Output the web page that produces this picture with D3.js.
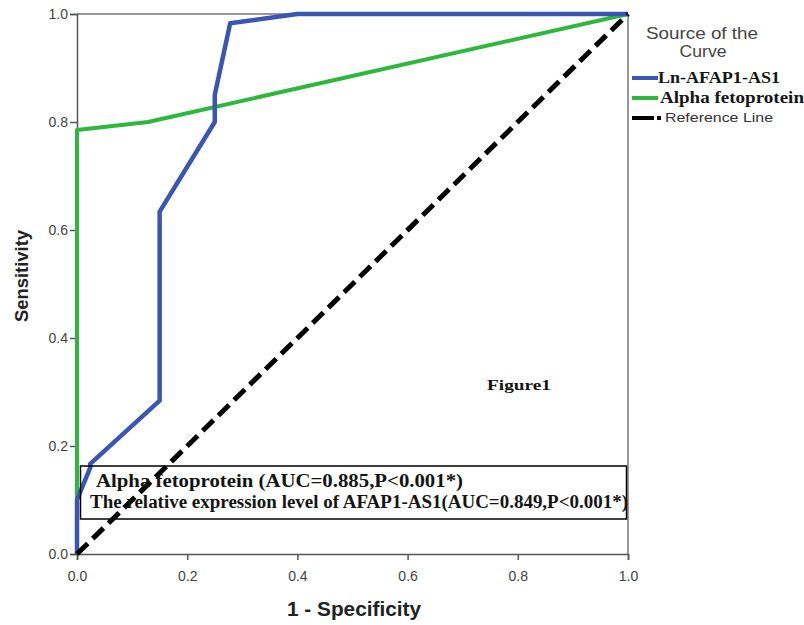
<!DOCTYPE html>
<html>
<head>
<meta charset="utf-8">
<script src="https://cdn.jsdelivr.net/npm/d3@7"></script>
<style>
  html, body { margin: 0; padding: 0; background: #fff; }
  svg { display: block; }
</style>
</head>
<body>
<svg id="chart" width="804" height="625"></svg>
<script>
// ---- Data ----
const afapX = [0, 0, 0.024, 0.024, 0.15, 0.15, 0.25, 0.25, 0.278, 0.4, 1.0];
const afapY = [0, 0.10, 0.16, 0.167, 0.284, 0.634, 0.80, 0.85, 0.983, 1.0, 1.0];
const afpX = [0, 0, 0.129, 1.0];
const afpY = [0, 0.785, 0.80, 1.0];
const refX = [0, 1];
const refY = [0, 1];
const tickValues = [0, 0.2, 0.4, 0.6, 0.8, 1.0];
const legendLabels = ["Ln-AFAP1-AS1", "Alpha fetoprotein", "Reference Line"];
const annotationLines = [
  "Alpha fetoprotein (AUC=0.885,P<0.001*)",
  "The relative expression level of AFAP1-AS1(AUC=0.849,P<0.001*)"
];

const svg = d3.select("#chart");
const L = 77, R = 628, T = 14, B = 554;
const x = d3.scaleLinear().domain([0, 1]).range([L, R]);
const y = d3.scaleLinear().domain([0, 1]).range([B, T]);

const sans = "Liberation Sans, Arial, sans-serif";
const serif = "Liberation Serif, Times New Roman, serif";

// frame (top/right)
svg.append("line").attr("x1", L).attr("x2", R).attr("y1", T).attr("y2", T)
  .attr("stroke", "#777").attr("stroke-width", 1.5);
svg.append("line").attr("x1", R).attr("x2", R).attr("y1", T).attr("y2", B)
  .attr("stroke", "#777").attr("stroke-width", 1.5);

// axes
const fmt = d3.format(".1f");
const xAxis = svg.append("g").attr("transform", `translate(0,${B})`)
  .call(d3.axisBottom(x).tickValues(tickValues).tickFormat(fmt).tickSize(6).tickPadding(11));
const yAxis = svg.append("g").attr("transform", `translate(${L},0)`)
  .call(d3.axisLeft(y).tickValues(tickValues).tickFormat(fmt).tickSize(7).tickPadding(2));
[xAxis, yAxis].forEach(a => {
  a.select(".domain").attr("stroke", "#555").attr("stroke-width", 1.5);
  a.selectAll(".tick line").attr("stroke", "#555").attr("stroke-width", 1.5);
  a.selectAll(".tick text").attr("fill", "#444").attr("font-family", sans).attr("font-size", 14);
});

// lines
const line = d3.line().x(d => x(d[0])).y(d => y(d[1]));
const afapPts = afapX.map((v, i) => [v, afapY[i]]);
const afpPts = afpX.map((v, i) => [v, afpY[i]]);
const refPts = refX.map((v, i) => [v, refY[i]]);

svg.append("path").datum(afpPts).attr("d", line).attr("fill", "none")
  .attr("stroke", "#2DB83D").attr("stroke-width", 4).attr("stroke-linejoin", "round");
svg.append("path").datum(afapPts).attr("d", line).attr("fill", "none")
  .attr("stroke", "#3A55B4").attr("stroke-width", 4.5).attr("stroke-linejoin", "round");
svg.append("path").datum(refPts).attr("d", line).attr("fill", "none")
  .attr("stroke", "#000").attr("stroke-width", 5).attr("stroke-dasharray", "15,7");

// annotation box
const box = svg.append("g");
box.append("rect").attr("x", 80.5).attr("y", 466).attr("width", 546).attr("height", 53)
  .attr("fill", "none").attr("stroke", "#000").attr("stroke-width", 1.5);
const annX = [96, 90];
const annLen = [367, 538];
box.selectAll("text.ann").data(annotationLines).join("text")
  .attr("class", "ann")
  .attr("x", (d, i) => annX[i]).attr("y", (d, i) => 487 + i * 21)
  .attr("font-family", serif).attr("font-weight", "bold").attr("font-size", 18)
  .attr("textLength", (d, i) => annLen[i]).attr("lengthAdjust", "spacingAndGlyphs")
  .attr("fill", "#141414").text(d => d);

// Figure1 label
svg.append("text").attr("x", 487).attr("y", 390)
  .attr("font-family", serif).attr("font-weight", "bold").attr("font-size", 15)
  .attr("textLength", 64).attr("lengthAdjust", "spacingAndGlyphs")
  .attr("fill", "#141414").text("Figure1");

// axis titles
svg.append("text").attr("x", 354).attr("y", 616).attr("text-anchor", "middle")
  .attr("font-family", sans).attr("font-weight", "bold").attr("font-size", 20)
  .attr("textLength", 134).attr("lengthAdjust", "spacingAndGlyphs")
  .attr("fill", "#222").text("1 - Specificity");
svg.append("text").attr("transform", "translate(28,276) rotate(-90)")
  .attr("text-anchor", "middle")
  .attr("font-family", sans).attr("font-weight", "bold").attr("font-size", 18)
  .attr("textLength", 92).attr("lengthAdjust", "spacingAndGlyphs")
  .attr("fill", "#222").text("Sensitivity");

// legend
const lg = svg.append("g");
lg.append("text").attr("x", 702).attr("y", 39).attr("text-anchor", "middle")
  .attr("font-family", sans).attr("font-size", 17).attr("fill", "#444")
  .attr("textLength", 112).attr("lengthAdjust", "spacingAndGlyphs").text("Source of the");
lg.append("text").attr("x", 703).attr("y", 57).attr("text-anchor", "middle")
  .attr("font-family", sans).attr("font-size", 17).attr("fill", "#444")
  .attr("textLength", 47).attr("lengthAdjust", "spacingAndGlyphs").text("Curve");
const legColors = ["#3A55B4", "#2DB83D", "#000"];
const legY = [78, 98, 118];
const legLen = [122, 144, 108];
legendLabels.forEach((lab, i) => {
  const ln = lg.append("line").attr("x1", 632).attr("x2", 658)
    .attr("y1", legY[i]).attr("y2", legY[i])
    .attr("stroke", legColors[i]).attr("stroke-width", 4);
  if (i === 2) ln.attr("x2", 661).attr("stroke-dasharray", "22,3,4,20");
  const t = lg.append("text").attr("y", legY[i] + 5)
    .attr("textLength", legLen[i]).attr("lengthAdjust", "spacingAndGlyphs");
  if (i < 2) {
    t.attr("x", i === 0 ? 658 : 660).attr("font-family", serif).attr("font-weight", "bold")
      .attr("font-size", 16).attr("fill", "#141414");
  } else {
    t.attr("x", 665).attr("y", legY[i] + 4).attr("font-family", sans)
      .attr("font-size", 13).attr("fill", "#333");
  }
  t.text(lab);
});
</script>
</body>
</html>
